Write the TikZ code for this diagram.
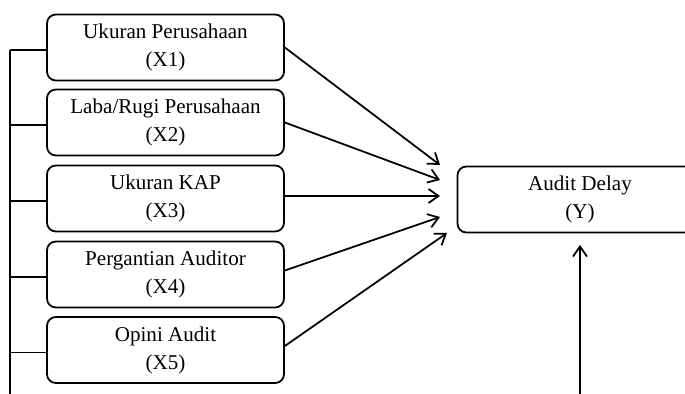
\documentclass[tikz,border=0pt]{standalone}
\usepackage{fontspec}
\setmainfont{Liberation Serif}
\usetikzlibrary{arrows.meta}

\def \boxw {4.74cm}
\def \boxh {1.32cm}
\def \railx {10}

\begin{document}
\begin{tikzpicture}[x=0.02cm, y=-0.02cm, line width=1pt,
  var/.style={draw, rounded corners=5pt, minimum width=\boxw, minimum height=\boxh,
    align=center, font=\fontsize{12}{16}\selectfont},
  >={Straight Barb[length=2mm, width=2.8mm]}]
\useasboundingbox (0,0) rectangle (685,394);
\node[var] (x1) at (165.5,47.5) {Ukuran Perusahaan\\(X1)};
\node[var] (x2) at (165.5,122.5) {Laba/Rugi Perusahaan\\(X2)};
\node[var] (x3) at (165.5,198.5) {Ukuran KAP\\(X3)};
\node[var] (x4) at (165.5,274.5) {Pergantian Auditor\\(X4)};
\node[var] (x5) at (165.5,350) {Opini Audit\\(X5)};
\node[var, minimum width=4.9cm] (y) at (580,199.5) {Audit Delay\\(Y)};
\coordinate (railtop) at (\railx,50);
\coordinate (railbot) at (\railx,394);
\draw (railtop) -- (railbot);
\foreach \i in {1,...,5}
  \draw ([yshift=-2.5*0.02cm]x\i.west) -- ([yshift=-2.5*0.02cm]x\i.west -| railtop);
\coordinate (e1) at (440,165);
\coordinate (e2) at (440,180);
\coordinate (e3) at (440,196);
\coordinate (e4) at (440,217);
\coordinate (e5) at (447,233);
\draw[->] (x1.east) -- (e1);
\draw[->] (x2.east) -- (e2);
\draw[->] ([yshift=2.5*0.02cm]x3.east) -- (e3);
\draw[->] ([yshift=4*0.02cm]x4.east) -- (e4);
\draw[->] ([yshift=4*0.02cm]x5.east) -- (e5);
\coordinate (ybot) at (580,394);
\coordinate (ytip) at (580,245);
\draw[->] (ybot) -- (ytip);
\end{tikzpicture}
\end{document}
